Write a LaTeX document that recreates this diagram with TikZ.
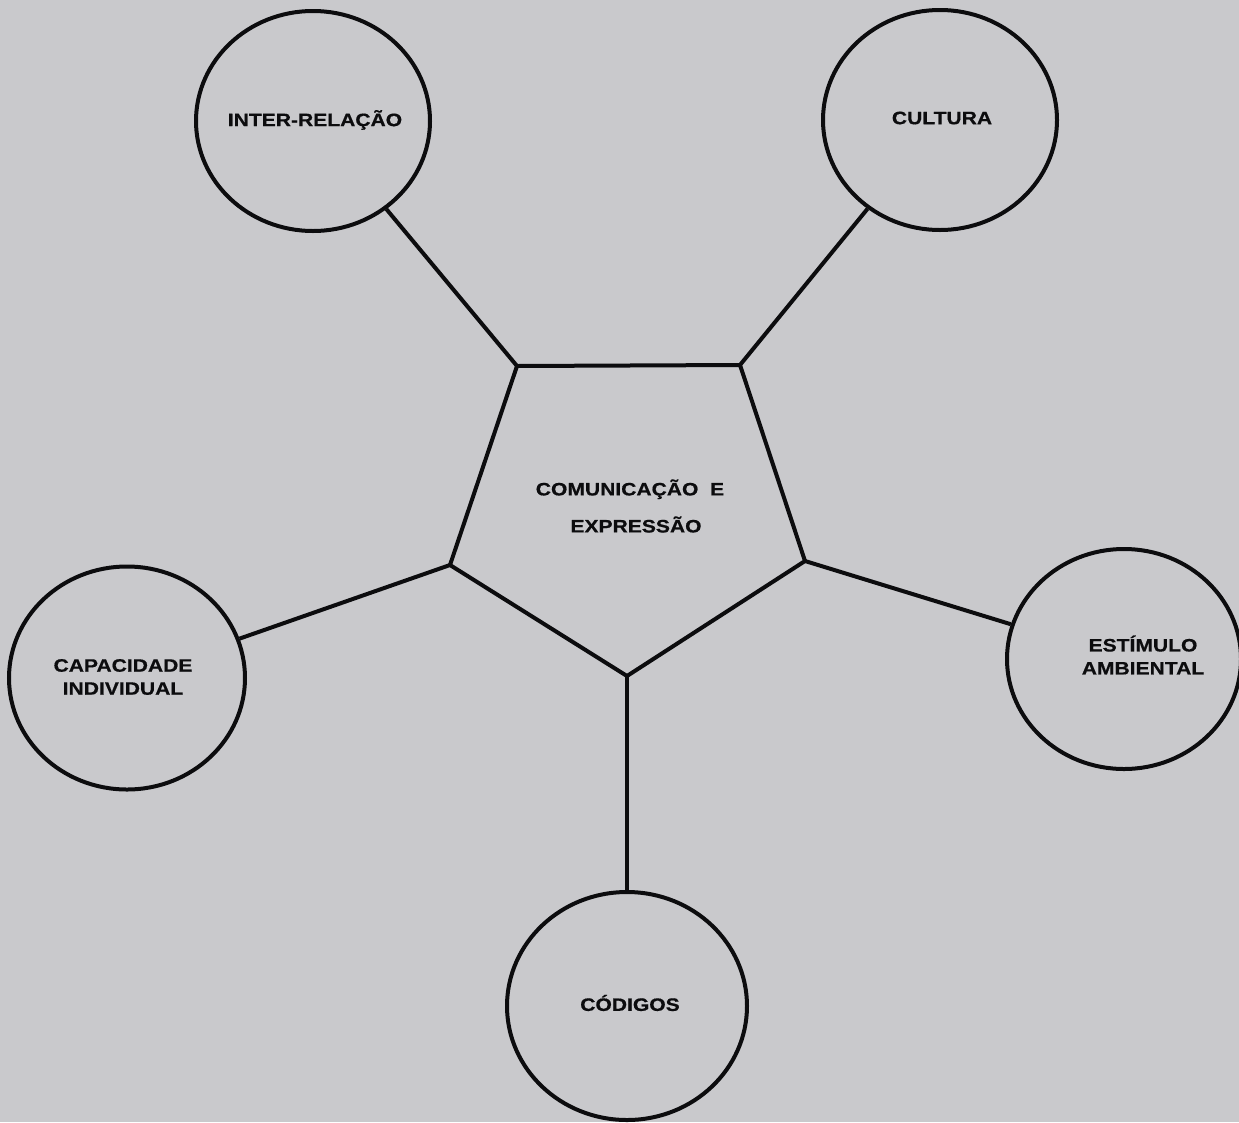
\documentclass[tikz,border=0pt]{standalone}
\usepackage{fontspec}
\setmainfont{Liberation Sans}[FakeStretch=1.17, BoldFeatures={FakeBold=0.6}]
\usetikzlibrary{shapes.geometric}
\definecolor{paper}{RGB}{201,201,204}
\definecolor{ink}{RGB}{12,12,14}
\begin{document}
\begin{tikzpicture}[x=1pt,y=-1pt,
  bubble/.style={draw=ink, ellipse, line width=4pt, inner sep=0pt,
    minimum width=234pt, minimum height=220pt},
  caption/.style={text=ink, font=\bfseries\fontsize{18}{23}\selectfont,
    align=center, inner sep=0pt},
  link/.style={draw=ink, line width=4pt}]
% page
\fill[paper] (0,0) rectangle (1239,1122);
\useasboundingbox (0,0) rectangle (1239,1122);

% central pentagon
\coordinate (pa) at (517,366);
\coordinate (pb) at (740,365);
\coordinate (pc) at (805,561);
\coordinate (pd) at (627,676);
\coordinate (pe) at (450,565);
\draw[link, line join=miter] (pa) -- (pb) -- (pc) -- (pd) -- (pe) -- cycle;
\node[caption, font=\bfseries\fontsize{18}{37}\selectfont] (centre) at (630,506)
  {COMUNICAÇÃO\ \ E\\\hspace*{12pt}EXPRESSÃO};

% surrounding circles
\node[bubble] (inter) at (313,121) {};
\node[bubble] (cult)  at (940,120) {};
\node[bubble, minimum width=236pt, minimum height=223pt] (capac) at (127,678) {};
\node[bubble] (estim) at (1124,659) {};
\node[bubble, minimum width=240pt, minimum height=228pt] (codig) at (627,1006) {};

\node[caption] (tinter) at (315,120) {INTER-RELAÇÃO};
\node[caption] (tcult)  at (942,118) {CULTURA};
\node[caption] (tcapac) at (123,677) {CAPACIDADE\\INDIVIDUAL};
\node[caption] (testim) at (1143,655) {ESTÍMULO\\AMBIENTAL};
\node[caption] (tcodig) at (630,1003) {CÓDIGOS};

% spokes
\draw[link] (pa) -- (inter);
\draw[link] (pb) -- (cult);
\draw[link] (pe) -- (capac);
\draw[link] (pc) -- (estim);
\draw[link] (pd) -- (codig);
\end{tikzpicture}
\end{document}
